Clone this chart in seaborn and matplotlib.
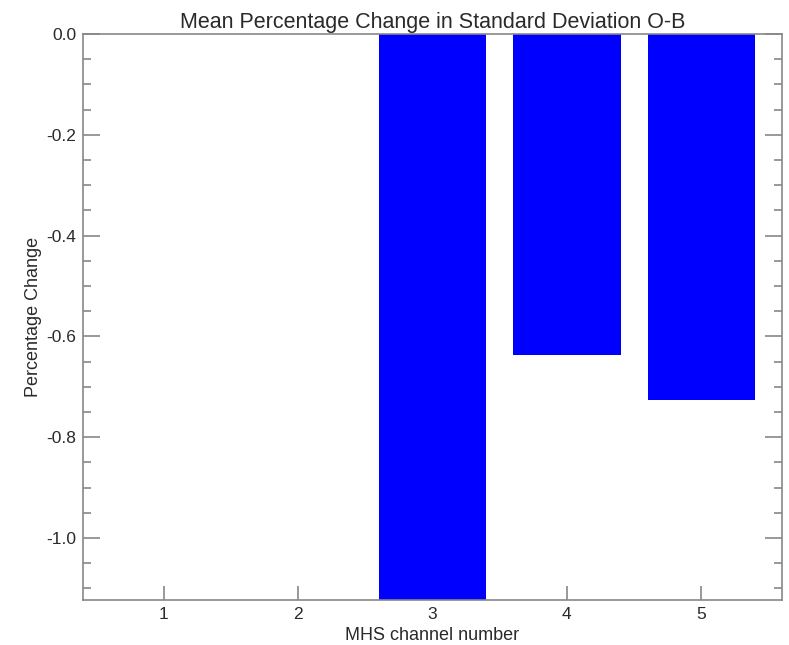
import matplotlib
matplotlib.use("Agg")
import matplotlib.pyplot as plt
import seaborn as sns
import pandas as pd
from matplotlib.ticker import MultipleLocator

channels = [1, 2, 3, 4, 5]
pct_change = [0.0, 0.0, -1.20, -0.637, -0.727]

sns.set_theme(style="white")
plt.rcParams['font.family'] = ['Liberation Sans', 'DejaVu Sans']

df = pd.DataFrame({"channel": channels, "pct": pct_change})

fig = plt.figure(figsize=(7.89, 6.45), dpi=100)
ax = fig.add_axes([83/789, 45/645, (782-83)/789, (600-34)/645])

sns.barplot(data=df, x="channel", y="pct", native_scale=True, color="#0000ff",
            saturation=1, width=0.8, linewidth=0, ax=ax, errorbar=None)

ax.set_xlim(0.4, 5.6)
ax.set_ylim(-1.123, 0.0)
ax.set_xticks(channels)
ax.set_xticklabels([str(c) for c in channels])
ax.yaxis.set_major_locator(MultipleLocator(0.2))
ax.yaxis.set_minor_locator(MultipleLocator(0.05))
ax.set_yticklabels([f"{v:.1f}" for v in ax.get_yticks()])
ax.set_ylim(-1.123, 0.0)

txt = "#2a2a2a"
spine = "#888888"
for s in ax.spines.values():
    s.set_color(spine)
    s.set_linewidth(1.2)
ax.tick_params(axis="y", which="major", direction="in", length=12, width=1.2,
               color=spine, right=True, left=True, labelsize=12.5, labelcolor=txt, pad=5)
ax.tick_params(axis="y", which="minor", direction="in", length=6, width=1.2,
               color=spine, right=True, left=True)
ax.tick_params(axis="x", which="major", direction="in", length=10, width=1.2,
               color=spine, top=False, bottom=True, labelsize=12.5, labelcolor=txt, pad=5)

ax.set_title("Mean Percentage Change in Standard Deviation O-B", fontsize=15.5,
             color=txt, pad=4)
ax.set_xlabel("MHS channel number", fontsize=13, color=txt, labelpad=4)
ax.set_ylabel("Percentage Change", fontsize=13, color=txt, labelpad=3)

fig.savefig("out.png", dpi=100, facecolor="white")
